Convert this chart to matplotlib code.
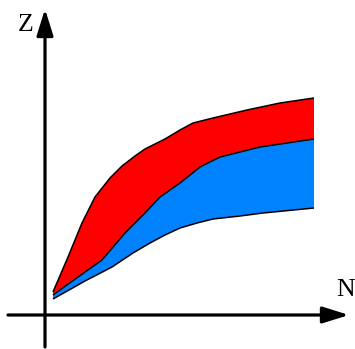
import matplotlib
matplotlib.use("Agg")
import matplotlib.pyplot as plt
import numpy as np

# Upper boundary of the red band
n_top = [8, 23, 37, 50, 65, 77, 90, 100, 120, 135, 148, 168, 202, 235, 269]
z_top = [23, 58, 92, 118, 137, 149, 159, 166, 176, 185, 192, 197, 205, 212, 217]

# Boundary between the red and blue bands
n_mid = [8, 33, 57, 80, 100, 115, 135, 155, 175, 215, 269]
z_mid = [20, 38, 55, 82, 102, 118, 132, 148, 158, 168, 176]

# Lower boundary of the blue band
n_bot = [8, 40, 67, 88, 105, 120, 135, 152, 168, 195, 218, 269]
z_bot = [16, 34, 48, 62, 72, 80, 87, 92, 96, 99, 102, 107]

axis_labels = ["N", "Z"]

RED = "#ff0000"
BLUE = "#0082ff"

fig = plt.figure(figsize=(3.55, 3.49), dpi=100)
ax = fig.add_axes([0, 0, 1, 1])
ax.set_xlim(-45, 310)
ax.set_ylim(-34, 315)
ax.axis("off")

# Bands as closed polygons
ax.fill(np.r_[n_top, n_mid[::-1]], np.r_[z_top, z_mid[::-1]],
        color=RED, lw=0, zorder=2)
ax.fill(np.r_[n_mid, n_bot[::-1]], np.r_[z_mid, z_bot[::-1]],
        color=BLUE, lw=0, zorder=2)

# Edge lines
for n, z in ((n_top, z_top), (n_mid, z_mid), (n_bot, z_bot)):
    ax.plot(n, z, color="black", lw=1.1, zorder=3, solid_capstyle="butt")

# Coordinate axes with arrowheads
arrow = dict(arrowstyle="-|>,head_length=0.8,head_width=0.25",
             lw=2.3, color="black", shrinkA=0, shrinkB=0,
             mutation_scale=20)
ax.annotate("", xy=(304, 0), xytext=(-37, 0), arrowprops=arrow, zorder=4)
ax.annotate("", xy=(0, 306), xytext=(0, -32), arrowprops=arrow, zorder=4)

font = dict(family="Liberation Serif", size=18.5)
ax.text(301, 25, axis_labels[0], ha="center", va="center", **font)
ax.text(-19, 290, axis_labels[1], ha="center", va="center", **font)

fig.savefig("out.png", dpi=100)
